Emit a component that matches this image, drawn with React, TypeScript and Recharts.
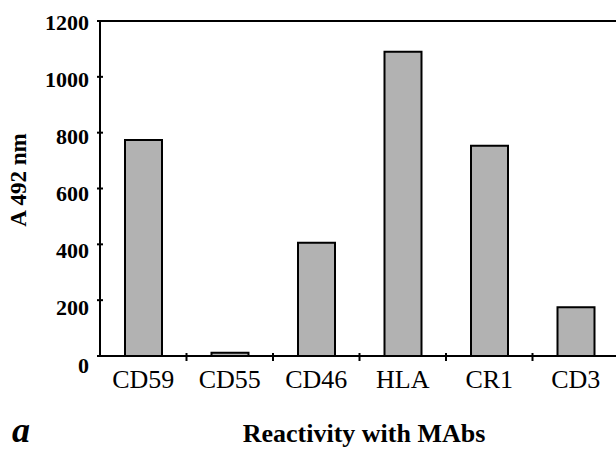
import { BarChart, Bar, XAxis, YAxis, ReferenceLine } from "recharts";

const categories = ["CD59", "CD55", "CD46", "HLA", "CR1", "CD3"];
const values = [774, 12, 406, 1090, 753, 175];
const yTicks = [0, 200, 400, 600, 800, 1000, 1200];

const data = categories.map((name, i) => ({ name, value: values[i] }));

const serif = '"Liberation Serif", "Times New Roman", serif';

function YTick({ x, y, payload }: any) {
  const v = Number(payload.value);
  // labels drift a little below their ticks toward the bottom of the axis
  const dy = 1 + ((1200 - v) / 1200) * 8;
  return (
    <g>
      <line x1={x - 3} x2={x + 3} y1={y} y2={y} stroke="#000" strokeWidth={2} />
      <text
        x={x - 11}
        y={y + dy}
        textAnchor="end"
        dominantBaseline="central"
        fontFamily={serif}
        fontWeight="bold"
        fontSize={22}
        fill="#000"
      >
        {payload.value}
      </text>
    </g>
  );
}

function XTick({ x, y, payload }: any) {
  const half = payload.offset ?? 43;
  return (
    <g>
      <line x1={x + half} x2={x + half} y1={y - 3} y2={y + 5} stroke="#000" strokeWidth={2} />
      <text x={x} y={y + 32} textAnchor="middle" fontFamily={serif} fontSize={26} fill="#000">
        {payload.value}
      </text>
    </g>
  );
}

export default function App() {
  return (
    <div
      style={{
        position: "absolute",
        left: 0,
        top: 0,
        width: 616,
        height: 450,
        overflow: "hidden",
        background: "#fff",
      }}
    >
      <BarChart width={619} height={450} data={data} margin={{ top: 21, right: 0, bottom: 0, left: 0 }}>
        <YAxis
          domain={[0, 1200]}
          ticks={yTicks}
          width={100}
          tickSize={0}
          tickMargin={0}
          tickLine={false}
          axisLine={{ stroke: "#000", strokeWidth: 2 }}
          tick={<YTick />}
          interval={0}
        />
        <XAxis
          dataKey="name"
          height={94}
          tickSize={0}
          tickMargin={0}
          tickLine={false}
          axisLine={{ stroke: "#000", strokeWidth: 2 }}
          tick={<XTick />}
          interval={0}
        />
        <ReferenceLine y={1200} stroke="#000" strokeWidth={2} />
        <Bar dataKey="value" fill="#b2b2b2" stroke="#000" strokeWidth={2} barSize={37} isAnimationActive={false} />
        <text
          x={18}
          y={180}
          transform="rotate(-90, 18, 180)"
          textAnchor="middle"
          dominantBaseline="central"
          fontFamily={serif}
          fontWeight="bold"
          fontSize={23}
          fill="#000"
        >
          A 492 nm
        </text>
        <text x={364} y={442} textAnchor="middle" fontFamily={serif} fontWeight="bold" fontSize={26} fill="#000">
          Reactivity with MAbs
        </text>
        <text x={12} y={442} fontFamily={serif} fontWeight="bold" fontStyle="italic" fontSize={36} fill="#000">
          a
        </text>
      </BarChart>
    </div>
  );
}
